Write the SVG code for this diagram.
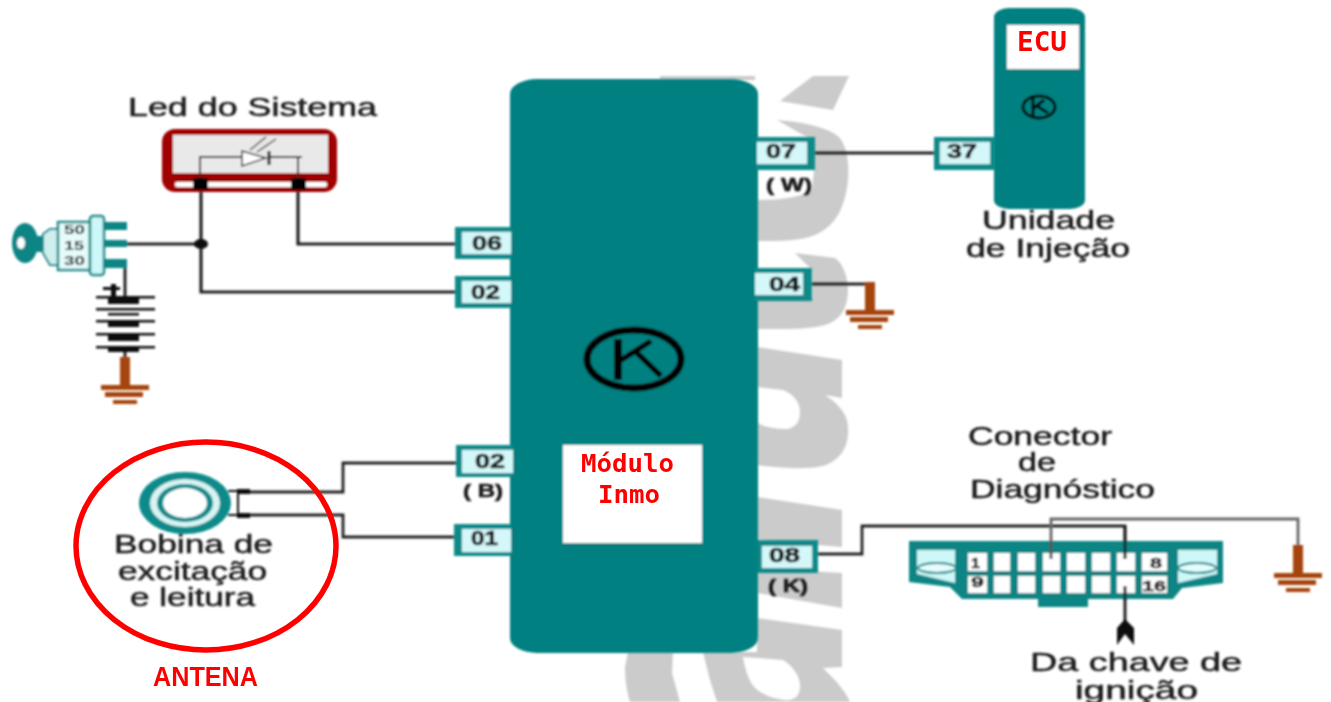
<svg xmlns="http://www.w3.org/2000/svg" width="1331" height="702" viewBox="0 0 1331 702">
<defs>
<filter id="b" x="-5%" y="-5%" width="110%" height="110%"><feGaussianBlur stdDeviation="0.9"/></filter>
<filter id="b2" x="-5%" y="-5%" width="110%" height="110%"><feGaussianBlur stdDeviation="0.45"/></filter>
<g id="gnd"><path d="M-5 0H5V28H-5Z" fill="#a5450c"/><path d="M-24 28H24V33H-24ZM-20 35H18V40H-20ZM-12 43H12V47H-12Z" fill="#a5450c"/></g>
</defs>
<style>
text{font-family:"Liberation Sans",Arial,sans-serif;fill:#1c1c1c}
.l{font-size:26px;stroke:#1c1c1c;stroke-width:.5px}
.p{font-size:21px;font-weight:700;stroke:#1c1c1c;stroke-width:.7px}
.s{font-size:18px;font-weight:700;stroke:#1c1c1c;stroke-width:.6px}
.c{font-size:14px;font-weight:700;stroke:#1c1c1c;stroke-width:.5px}
.r{fill:#f00;font-weight:700;font-size:27px}
.w{fill:none;stroke:#222;stroke-width:2.800}
.t{fill:#008080}
.o{fill:#118a8a}
.i{fill:#d4f8fa}
.g{fill:#cbcbcb}
</style>
<rect width="1331" height="702" fill="#fff"/>
<g id="watermark" filter="url(#b)">
<path class="g" d="M660 76H755V80H660Z"/>
<path class="g" d="M780 101L813 76H849L833 110Z"/>
<path class="g" d="M777 120C805 122 830 128 840 138C848 150 849 165 848 180C845 205 838 225 815 235C800 241 780 241 757 241V200C780 200 800 198 812 190L814 170L812 140Z"/>
<path class="g" d="M795 253L835 258C845 265 848 280 848 292C847 310 840 320 825 325C805 330 780 329 757 329V296L812 298V270Z"/>
<path class="g" fill-rule="evenodd" d="M757 347L842 360V398L825 395C840 405 848 415 848 428C849 448 840 460 823 466C805 470 780 468 757 465ZM757 387L783 390C795 395 800 403 800 412C800 422 795 428 787 429C775 429 765 427 757 423Z"/>
<path class="g" d="M757 497L842 510V547L757 540Z"/>
<path class="g" d="M757 568L842 573V608L757 593Z"/>
<path class="g" d="M757 618L842 630V667L823 668C835 680 845 690 850 702H717L710 680L703 652H628L625 667C625 680 627 692 630 702H680L672 673L673 652H757Z"/>
<path fill="#fff" d="M743 657L783 660C795 668 800 678 800 686C800 695 795 700 787 700C775 699 765 696 755 688C748 680 745 668 743 657Z"/>
</g>
<g filter="url(#b)">
<g id="connectors">
<path class="w" d="M808 153H940"/>
<path class="w" d="M803 284H870"/>
<path class="w" d="M127 244H201"/>
<path class="w" style="stroke-width:3.200" d="M201 184V292H462"/>
<path class="w" style="stroke-width:3.200" d="M298 184V244H462"/>
<path class="w" style="stroke-width:3" d="M125 268V297"/>
<path class="w" style="stroke-width:3" d="M125 350V367"/>
<path class="w" d="M240 492H343V463H462"/>
<path class="w" d="M240 515H343V537H462"/>
<path class="w" d="M812 554H862V526H1125V558"/>
<path class="w" style="stroke:#666" d="M1051 558V519H1298V546"/>
<path class="w" style="stroke-width:3" d="M1125 586V622"/>
<path d="M1117 645V628L1125 619L1134 628V645L1125 634Z" fill="#111"/>
<ellipse cx="201" cy="244" rx="7" ry="5" fill="#111"/>
</g>
<g id="modulo-inmo">
<rect class="t" x="510" y="79" width="248" height="574" rx="27" ry="15"/>
<ellipse cx="634" cy="359" rx="47" ry="29" fill="none" stroke="#000" stroke-width="7"/>
<path d="M618 339V380" fill="none" stroke="#000" stroke-width="8"/>
<path d="M651 341L621 360M635 351L661 376" fill="none" stroke="#000" stroke-width="5.500"/>
<rect x="563" y="445" width="139" height="98" fill="#fff"/>
</g>
<g id="pino-06"><rect class="o" x="455" y="227" width="56" height="32"/><rect class="i" x="462" y="232" width="49" height="22"/><text class="p" x="472" y="250" textLength="30" lengthAdjust="spacingAndGlyphs">06</text></g>
<g id="pino-02a"><rect class="o" x="455" y="276" width="56" height="32"/><rect class="i" x="462" y="281" width="49" height="22"/><text class="p" x="471" y="299" textLength="29" lengthAdjust="spacingAndGlyphs">02</text></g>
<g id="pino-02b"><rect class="o" x="456" y="445" width="57" height="32"/><rect class="i" x="462" y="450" width="51" height="23"/><text class="p" x="475" y="468" textLength="30" lengthAdjust="spacingAndGlyphs">02</text><text class="s" x="463" y="497" textLength="40" lengthAdjust="spacingAndGlyphs">( B)</text></g>
<g id="pino-01"><rect class="o" x="454" y="524" width="57" height="32"/><rect class="i" x="462" y="529" width="49" height="23"/><text class="p" x="471" y="545" textLength="27" lengthAdjust="spacingAndGlyphs">01</text></g>
<g id="pino-07"><rect class="o" x="756" y="137" width="59" height="33"/><rect class="i" x="757" y="142" width="50" height="22"/><text class="p" x="766" y="158" textLength="30" lengthAdjust="spacingAndGlyphs">07</text><text class="s" x="766" y="191" textLength="46" lengthAdjust="spacingAndGlyphs">( W)</text></g>
<g id="pino-04"><rect class="o" x="755" y="268" width="57" height="33"/><rect class="i" x="755" y="273" width="48" height="22"/><text class="p" x="769" y="291" textLength="31" lengthAdjust="spacingAndGlyphs">04</text></g>
<g id="pino-08"><rect class="o" x="758" y="540" width="60" height="33"/><rect class="i" x="762" y="546" width="50" height="22"/><text class="p" x="769" y="562" textLength="31" lengthAdjust="spacingAndGlyphs">08</text><text class="s" x="768" y="592" textLength="40" lengthAdjust="spacingAndGlyphs">( K)</text></g>
<g id="ecu">
<rect class="t" x="994" y="8" width="91" height="201" rx="15" ry="9"/>
<rect x="1007" y="25" width="72" height="44" fill="#fff"/>
<ellipse cx="1039" cy="107" rx="16" ry="11" fill="none" stroke="#000" stroke-width="3"/>
<path d="M1033 97V117M1034 108L1044 100M1037 106L1048 113" fill="none" stroke="#000" stroke-width="3"/>
<text class="l" x="982" y="229" textLength="133" lengthAdjust="spacingAndGlyphs">Unidade</text>
<text class="l" x="966" y="257" textLength="164" lengthAdjust="spacingAndGlyphs">de Injeção</text>
</g>
<g id="pino-37"><rect class="o" x="934" y="137" width="61" height="33"/><rect class="i" x="940" y="142" width="50" height="22"/><text class="p" x="947" y="158" textLength="30" lengthAdjust="spacingAndGlyphs">37</text></g>
<g id="gnd-04"><use href="#gnd" x="870" y="282"/></g>
<g id="gnd-bat"><use href="#gnd" x="125" y="357"/></g>
<g id="gnd-conector"><use href="#gnd" x="1298" y="545"/></g>
<g id="led">
<text class="l" x="128" y="116" textLength="249" lengthAdjust="spacingAndGlyphs">Led do Sistema</text>
<rect x="162" y="129" width="175" height="63" rx="13" fill="#a00000"/>
<rect x="173" y="135" width="155" height="38" fill="#e9e9e9"/>
<rect x="175" y="182" width="152" height="5" rx="2" fill="#fff"/>
<path class="w" style="stroke-width:2" d="M200 184V157H242M270 157H302M298 157V184"/>
<path d="M242 151V166L266 158Z" fill="#fff" stroke="#333" stroke-width="1.500"/>
<path d="M269 151V165" stroke="#222" stroke-width="3"/>
<path d="M250 150L266 137M257 152L276 139" stroke="#777" stroke-width="2"/>
<rect x="193" y="178" width="15" height="12" fill="#000"/>
<rect x="291" y="178" width="15" height="12" fill="#000"/>
</g>
<g id="chave">
<ellipse cx="25" cy="243" rx="13" ry="20" fill="#0a8585"/>
<ellipse cx="21" cy="243" rx="4" ry="6" fill="#fff"/>
<rect x="37" y="236" width="8" height="16" fill="#0a8585"/>
<path d="M43 234L50 229H58V265H50L43 253Z" fill="#cfeeee" stroke="#1a8a8a" stroke-width="2"/>
<rect x="58" y="222" width="32" height="48" fill="#e6fbfb" stroke="#1a8a8a" stroke-width="2.500"/>
<rect x="90" y="216" width="14" height="59" rx="3" fill="#cdf7f9" stroke="#1a8a8a" stroke-width="2.500"/>
<path d="M104 222H127V230H104ZM104 240H127V247H104ZM104 259H127V268H104Z" fill="#0a8585"/>
<text x="64" y="234" font-size="12" font-weight="700" textLength="21" lengthAdjust="spacingAndGlyphs">50</text>
<text x="64" y="250" font-size="12" font-weight="700" textLength="20" lengthAdjust="spacingAndGlyphs">15</text>
<text x="64" y="265" font-size="12" font-weight="700" textLength="21" lengthAdjust="spacingAndGlyphs">30</text>
</g>
<g id="bateria" fill="#111">
<path d="M103 287H120V290H103ZM111 284H116V297H111Z"/>
<path d="M96 296H155V298.500H96ZM108 298H139V304H108Z"/>
<path d="M96 308H155V310.500H96ZM108 313H139V315.500H108Z"/>
<path d="M96 320H155V322.500H96ZM108 322H139V327H108Z"/>
<path d="M96 333H155V335.500H96ZM108 335H139V341H108Z"/>
<path d="M96 346H155V348.500H96ZM108 348H139V352H108Z"/>
</g>
<g id="bobina">
<ellipse cx="185" cy="503" rx="46" ry="31" fill="#0a8a8a"/>
<ellipse cx="185" cy="503" rx="35" ry="24" fill="#d8f4f4"/>
<ellipse cx="185" cy="503" rx="28" ry="19" fill="#0a8a8a"/>
<ellipse cx="185" cy="503" rx="22" ry="15" fill="#fff"/>
<path d="M228 491H250M228 515H250M238 491V515" stroke="#111" stroke-width="2" fill="none"/>
<path d="M237 489H250V494H237ZM237 513H250V518H237Z" fill="#111"/>
<text class="l" x="114" y="553" textLength="159" lengthAdjust="spacingAndGlyphs">Bobina de</text>
<text class="l" x="118" y="580" textLength="149" lengthAdjust="spacingAndGlyphs">excitação</text>
<text class="l" x="130" y="606" textLength="125" lengthAdjust="spacingAndGlyphs">e leitura</text>
</g>
<g id="conector">
<text class="l" x="968" y="445" textLength="144" lengthAdjust="spacingAndGlyphs">Conector</text>
<text class="l" x="1018" y="471" textLength="38" lengthAdjust="spacingAndGlyphs">de</text>
<text class="l" x="970" y="498" textLength="185" lengthAdjust="spacingAndGlyphs">Diagnóstico</text>
<path d="M909 541H1223V583L1182 588L1173 599H1088V607H1038V599H962L950 587L909 582Z" fill="#0a8585"/>
<path d="M917 550H955V583L917 574ZM1178 550H1217V574L1178 583Z" fill="#cdf7f9"/>
<ellipse cx="937" cy="568" rx="19" ry="5" fill="#e6fbfb" stroke="#0a8585" stroke-width="2"/>
<ellipse cx="1197" cy="568" rx="19" ry="5" fill="#e6fbfb" stroke="#0a8585" stroke-width="2"/>
<path fill="#fff" d="M968 553h19v18h-19zM994 553h16v18h-16zM1018 553h17v18h-17zM1043 553h17v18h-17zM1067 553h18v18h-18zM1092 553h18v18h-18zM1117 553h18v18h-18zM1142 553h25v18h-25zM968 576h19v17h-19zM994 576h16v17h-16zM1018 576h17v17h-17zM1043 576h17v17h-17zM1067 576h18v17h-18zM1092 576h18v17h-18zM1117 576h18v17h-18zM1142 576h25v17h-25z"/>
<text class="c" x="971" y="568" textLength="9" lengthAdjust="spacingAndGlyphs">1</text>
<text class="c" x="1150" y="568" textLength="12" lengthAdjust="spacingAndGlyphs">8</text>
<text class="c" x="971" y="587" textLength="13" lengthAdjust="spacingAndGlyphs">9</text>
<text class="c" x="1142" y="591" textLength="24" lengthAdjust="spacingAndGlyphs">16</text>
<path d="M1051 541V559" stroke="#555" stroke-width="3"/>
<path d="M1125 526V559M1125 586V600" stroke="#222" stroke-width="3"/>
<text class="l" x="1030" y="671" textLength="212" lengthAdjust="spacingAndGlyphs">Da chave de</text>
<text class="l" x="1075" y="699" textLength="123" lengthAdjust="spacingAndGlyphs">ignição</text>
</g>
</g>
<ellipse id="antena" cx="206" cy="546" rx="130" ry="104" fill="none" stroke="#f00" stroke-width="5.500"/>
<g id="rotulos" filter="url(#b2)">
<text class="r" x="153" y="686" textLength="105" lengthAdjust="spacingAndGlyphs">ANTENA</text>
<text class="r" x="581" y="472" style="font-size:24px;font-family:'DejaVu Sans Mono',monospace" textLength="93" lengthAdjust="spacingAndGlyphs">Módulo</text>
<text class="r" x="598" y="503" style="font-size:24px;font-family:'DejaVu Sans Mono',monospace" textLength="62" lengthAdjust="spacingAndGlyphs">Inmo</text>
<text class="r" x="1017" y="51" style="font-size:27px;font-family:'DejaVu Sans Mono',monospace" textLength="50" lengthAdjust="spacingAndGlyphs">ECU</text>
</g>
</svg>
